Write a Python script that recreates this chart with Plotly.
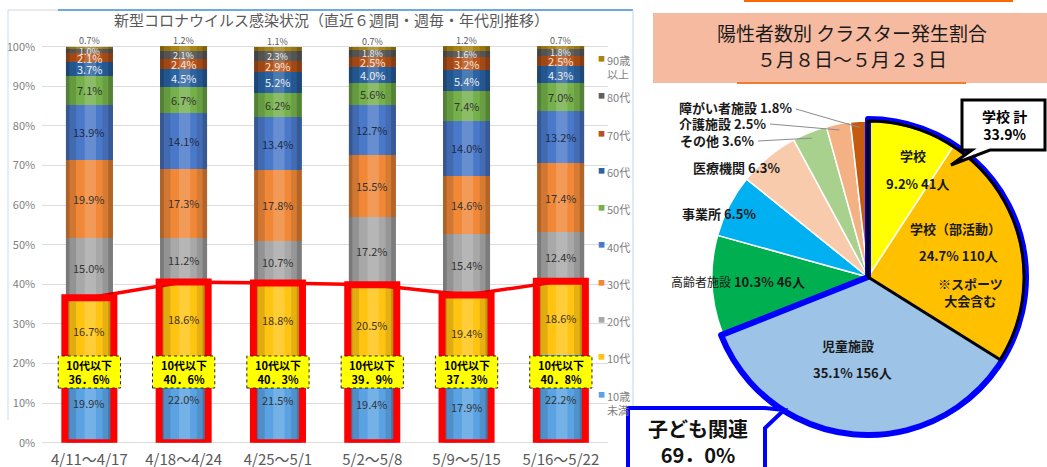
import math
import plotly.graph_objects as go

W, H = 1047, 467
FONT = "Noto Sans CJK JP"


def px_x(px):
    return px / W


def px_y(py):
    return 1 - py / H


# ---------------- data: weekly age distribution (%) ----------------
weeks = ["4/11～4/17", "4/18～4/24", "4/25～5/1", "5/2～5/8", "5/9～5/15", "5/16～5/22"]
age_groups = ["10歳未満", "10代", "20代", "30代", "40代", "50代", "60代", "70代", "80代", "90歳以上"]
legend_text = ["10歳<br>未満", "10代", "20代", "30代", "40代", "50代", "60代", "70代", "80代", "90歳<br>以上"]

under10 = [19.9, 22.0, 21.5, 19.4, 17.9, 22.2]
teens = [16.7, 18.6, 18.8, 20.5, 19.4, 18.6]
twenties = [15.0, 11.2, 10.7, 17.2, 15.4, 12.4]
thirties = [19.9, 17.3, 17.8, 15.5, 14.6, 17.4]
forties = [13.9, 14.1, 13.4, 12.7, 14.0, 13.2]
fifties = [7.1, 6.7, 6.2, 5.6, 7.4, 7.0]
sixties = [3.7, 4.5, 5.2, 4.0, 5.4, 4.3]
seventies = [2.1, 2.4, 2.9, 2.5, 3.2, 2.5]
eighties = [1.0, 2.1, 2.3, 1.8, 1.6, 1.8]
over90 = [0.7, 1.2, 1.1, 0.7, 1.2, 0.7]

y_ticks = [0, 10, 20, 30, 40, 50, 60, 70, 80, 90, 100]

# ---------------- data: cluster share (pie) ----------------
cluster_names = ["学校", "学校（部活動）", "児童施設", "高齢者施設", "事業所", "医療機関", "その他", "介護施設", "障がい者施設"]
cluster_pct = [9.2, 24.7, 35.1, 10.3, 6.5, 6.3, 3.6, 2.5, 1.8]
cluster_people = [41, 110, 156, 46, None, None, None, None, None]

# ---------------- styles ----------------
age_colors = ["#5AA2E2", "#FFC412", "#A8A8A8", "#F08838", "#4B79C9",
              "#75B04B", "#2A62A2", "#B5531A", "#5F5F5F", "#A88414"]
label_colors = ["#333333", "#3d3320", "#333333", "#333333", "#1f2a44",
                "#333333", "#EEEEEE", "#F3E6DD", "#EEEEEE", "#595959"]
label_sizes = [11, 11, 11, 11, 11, 11, 11, 11, 9, 9]
cluster_colors = ["#FFFF00", "#FFC000", "#9DC3E6", "#00B050", "#00B0F0",
                  "#F8CBAD", "#A9D18E", "#F4B183", "#C55A11"]

series = [under10, teens, twenties, thirties, forties, fifties, sixties, seventies, eighties, over90]
idx = list(range(len(weeks)))
BAR_W = 0.5

# y axis pixel geometry: 0% at 442.7px, 100% at 46.7px; range extended a bit for top labels
Y0_PX, PX_PER_PCT = 442.7, 3.96
Y_MAX = 103

fig = go.Figure()

for name, vals, col in zip(age_groups, series, age_colors):
    fig.add_trace(go.Bar(x=idx, y=vals, name=name, width=BAR_W,
                         marker=dict(color=col, line=dict(width=0)),
                         cliponaxis=False, hoverinfo="skip", showlegend=False))

teen_and_under = [round(a + b, 1) for a, b in zip(under10, teens)]
fig.add_trace(go.Scatter(x=idx, y=teen_and_under, mode="lines",
                         line=dict(color="#FF0000", width=3.5),
                         hoverinfo="skip", showlegend=False, cliponaxis=False))

shapes = []
annotations = []


def note(x, y, text, size, color, xanchor="center", yanchor="middle", align="center"):
    annotations.append(dict(x=px_x(x), y=px_y(y), xref="paper", yref="paper", showarrow=False,
                            text=text, xanchor=xanchor, yanchor=yanchor, align=align,
                            font=dict(family=FONT, size=size, color=color)))


# panel decorations
shapes += [
    dict(type="line", xref="paper", yref="paper", x0=px_x(8), x1=px_x(58), y0=px_y(10), y1=px_y(10),
         line=dict(color="#D0D8E0", width=1)),
    dict(type="line", xref="paper", yref="paper", x0=px_x(58), x1=px_x(633), y0=px_y(10), y1=px_y(10),
         line=dict(color="#6FA8DC", width=2)),
    dict(type="line", xref="paper", yref="paper", x0=px_x(8), x1=px_x(8), y0=px_y(10), y1=px_y(420),
         line=dict(color="#C9DDF0", width=1)),
    dict(type="line", xref="paper", yref="paper", x0=px_x(633), x1=px_x(633), y0=px_y(10), y1=px_y(467),
         line=dict(color="#BDD7EE", width=1)),
]

# cylinder shading on bars
totals = [sum(s[i] for s in series) for i in idx]
strips = [(-0.25, -0.21, "rgba(0,0,0,0.28)"), (-0.21, -0.14, "rgba(0,0,0,0.12)"),
          (-0.05, 0.07, "rgba(255,255,255,0.16)"), (0.14, 0.20, "rgba(0,0,0,0.10)"),
          (0.20, 0.25, "rgba(0,0,0,0.26)")]
for i in idx:
    for a, b, c in strips:
        shapes.append(dict(type="rect", xref="x", yref="y", x0=i + a, x1=i + b, y0=0, y1=totals[i],
                           fillcolor=c, line=dict(width=0)))

# red boxes around 10代以下
for i in idx:
    shapes.append(dict(type="rect", xref="x", yref="y", x0=i - 0.26, x1=i + 0.26, y0=0, y1=teen_and_under[i],
                       line=dict(color="#FF0000", width=7)))

# yellow label boxes
for i in idx:
    shapes.append(dict(type="rect", xref="x", yref="y", x0=i - 0.33, x1=i + 0.33, y0=13.8, y1=21.9,
                       fillcolor="#FFFF00", line=dict(color="#222222", width=1, dash="dot")))
    annotations.append(dict(x=i, y=17.85, xref="x", yref="y", showarrow=False,
                            xanchor="center", yanchor="middle",
                            text="<b>10代以下<br>" + f"{teen_and_under[i]:.1f}".replace(".", "．") + "%</b>",
                            font=dict(family=FONT, size=11, color="#000000")))

# segment labels
base = [0.0] * len(idx)
for g, vals in enumerate(series):
    for i, v in enumerate(vals):
        if g == len(series) - 1:
            yv = base[i] + v + 1.5
        else:
            yv = base[i] + v / 2
        annotations.append(dict(x=i, y=yv, xref="x", yref="y", showarrow=False, text=f"{v:.1f}%",
                                xanchor="center", yanchor="middle",
                                font=dict(family=FONT, size=label_sizes[g], color=label_colors[g])))
    base = [b + v for b, v in zip(base, vals)]

# legend (custom, right of bars)
for g, (txt, col) in enumerate(zip(legend_text, age_colors)):
    yc = 393.7 - 37.3 * g
    note(601, yc, "■", 7, col)
    note(605, yc - 8, txt, 11, "#7F7F7F", xanchor="left", yanchor="top", align="left")

# left title
note(331, 20, "新型コロナウイルス感染状況（直近６週間・週毎・年代別推移）", 15, "#595959")

# ---------------- pie ----------------
cx, cy, r = 868, 277, 156
fig.add_trace(go.Pie(values=cluster_pct, labels=cluster_names, sort=False, direction="clockwise",
                     rotation=0, textinfo="none", hoverinfo="skip", showlegend=False,
                     marker=dict(colors=cluster_colors, line=dict(color="white", width=1.5)),
                     domain=dict(x=[px_x(cx - r), px_x(cx + r)], y=[px_y(cy + r), px_y(cy - r)])))

child_total = round(sum(cluster_pct[:3]), 1)
school_total = round(sum(cluster_pct[:2]), 1)
r2 = r + 2
fig.add_trace(go.Pie(values=[child_total, round(100 - child_total, 1)], labels=["子ども関連", "子ども以外"],
                     sort=False, direction="clockwise", rotation=0, textinfo="none", hoverinfo="skip",
                     showlegend=False,
                     marker=dict(colors=["rgba(0,0,0,0)", "rgba(0,0,0,0)"],
                                 line=dict(color=["#0000FF", "rgba(0,0,0,0)"], width=[6, 0])),
                     domain=dict(x=[px_x(cx - r2), px_x(cx + r2)], y=[px_y(cy + r2), px_y(cy - r2)])))
fig.add_trace(go.Pie(values=[school_total, round(100 - school_total, 1)], labels=["学校計", "学校以外"],
                     sort=False, direction="clockwise", rotation=0, textinfo="none", hoverinfo="skip",
                     showlegend=False,
                     marker=dict(colors=["rgba(0,0,0,0)", "rgba(0,0,0,0)"],
                                 line=dict(color=["#000000", "rgba(0,0,0,0)"], width=[3, 0])),
                     domain=dict(x=[px_x(cx - r), px_x(cx + r)], y=[px_y(cy + r), px_y(cy - r)])))

# pie title box
shapes += [
    dict(type="line", xref="paper", yref="paper", x0=px_x(744), x1=px_x(1013), y0=px_y(1), y1=px_y(1),
         line=dict(color="#FF6600", width=2)),
    dict(type="rect", xref="paper", yref="paper", x0=px_x(653), x1=px_x(1047), y0=px_y(83), y1=px_y(13),
         fillcolor="#F6BAA0", line=dict(width=0)),
    dict(type="line", xref="paper", yref="paper", x0=px_x(737), x1=px_x(966), y0=px_y(83), y1=px_y(83),
         line=dict(color="#ED7D31", width=2)),
]
note(852, 33, "陽性者数別 クラスター発生割合", 19, "#1a1a1a")
note(852, 58, "５月８日～５月２３日", 19, "#1a1a1a")


def pct(i):
    return f"{cluster_pct[i]}%"


def people(i):
    return f"{cluster_people[i]}人"


inside_labels = [
    (f"<b>{cluster_names[0]}</b>", 913, 155),
    (f"<b>{pct(0)} {people(0)}</b>", 917, 183),
    (f"<b>{cluster_names[1]}</b>", 955, 229),
    (f"<b>{pct(1)} {people(1)}</b>", 958, 255),
    ("<b>※スポーツ<br>大会含む</b>", 970, 292),
    (f"<b>{cluster_names[2]}</b>", 848, 345),
    (f"<b>{pct(2)} {people(2)}</b>", 852, 372),
    (f"<span style='font-size:12px'>{cluster_names[3]}</span> <b>{pct(3)} {people(3)}</b>", 738, 281),
    (f"<b>{cluster_names[4]} {pct(4)}</b>", 719, 213),
    (f"<b>{cluster_names[5]} {pct(5)}</b>", 737, 167),
]
for txt, x, y in inside_labels:
    note(x, y, txt, 13, "#1a1a1a")

# outside labels with leader lines
cum = 0.0
mids = []
for p in cluster_pct:
    mids.append((cum + p / 2) / 100 * 2 * math.pi)
    cum += p
outside = [(6, 757, 140), (7, 769, 123), (8, 795, 108)]
for k, x, y in outside:
    note(x, y, f"<b>{cluster_names[k]} {pct(k)}</b>", 13, "#1a1a1a", xanchor="right")
    ex = cx + 0.96 * r * math.sin(mids[k])
    ey = cy - 0.96 * r * math.cos(mids[k])
    shapes.append(dict(type="line", xref="paper", yref="paper", x0=px_x(x + 1), y0=px_y(y + 1),
                       x1=px_x(ex), y1=px_y(ey), line=dict(color="#8C8C8C", width=1)))

# callout: 学校 計
shapes.append(dict(type="path", xref="paper", yref="paper",
                   path=(f"M {px_x(962)},{px_y(100)} L {px_x(1045)},{px_y(100)} L {px_x(1045)},{px_y(150)} "
                         f"L {px_x(990)},{px_y(150)} L {px_x(951)},{px_y(165)} L {px_x(972)},{px_y(150)} "
                         f"L {px_x(962)},{px_y(150)} Z"),
                   fillcolor="white", line=dict(color="#000000", width=3)))
note(1004, 125, f"<b>学校 計<br>{school_total}%</b>", 14, "#000000")

# callout: 子ども関連
shapes.append(dict(type="path", xref="paper", yref="paper",
                   path=(f"M {px_x(628)},{px_y(408)} L {px_x(765)},{px_y(408)} L {px_x(784)},{px_y(410)} "
                         f"L {px_x(765)},{px_y(428)} L {px_x(765)},{px_y(472)} L {px_x(628)},{px_y(472)} Z"),
                   fillcolor="white", line=dict(color="#0000FF", width=4)))
note(698, 441, "<b>子ども関連<br>" + f"{child_total:.1f}".replace(".", "．") + "%</b>", 20, "#111111")

fig.update_layout(
    template="none",
    width=W, height=H, autosize=False, margin=dict(l=0, r=0, t=0, b=0, pad=0),
    paper_bgcolor="white", plot_bgcolor="white",
    barmode="stack", bargap=0.5,
    xaxis=dict(domain=[px_x(42.2), px_x(608)], range=[-0.5, len(weeks) - 0.5], automargin=False,
               tickvals=idx, ticktext=weeks, showgrid=False, zeroline=False, showline=False,
               ticks="", ticklabelstandoff=6, tickfont=dict(family=FONT, size=15, color="#595959")),
    yaxis=dict(domain=[px_y(Y0_PX), px_y(Y0_PX - Y_MAX * PX_PER_PCT)], range=[0, Y_MAX],
               tickvals=y_ticks, automargin=False,
               ticktext=[f"{v}%" for v in y_ticks], showgrid=True, gridcolor="#DCDCDC", gridwidth=1,
               zeroline=True, zerolinecolor="#DCDCDC", zerolinewidth=1, showline=False,
               ticks="", ticklabelstandoff=6, tickfont=dict(family=FONT, size=11, color="#7F7F7F")),
    shapes=shapes, annotations=annotations, showlegend=False,
    font=dict(family=FONT, color="#333333"),
)

fig.write_html("out.html", config={"displayModeBar": False},
               post_script="document.body.style.margin='0px';document.body.style.overflow='hidden';")
